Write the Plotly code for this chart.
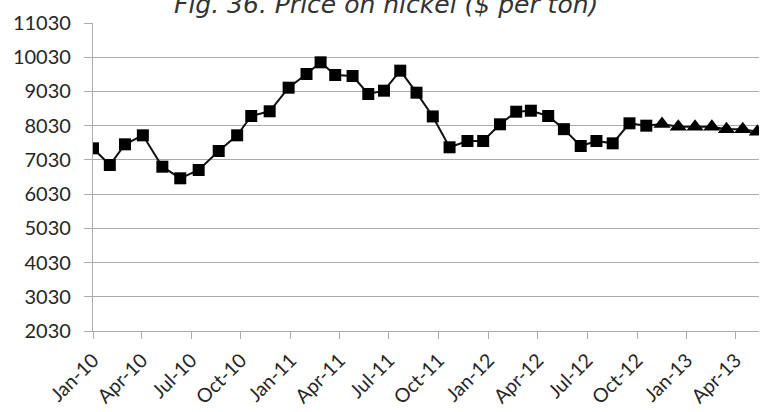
import plotly.graph_objects as go

# Observation dates for each price reading
dates = [
    "2010-01-01", "2010-02-01", "2010-03-01", "2010-04-03", "2010-05-09",
    "2010-06-11", "2010-07-15", "2010-08-21", "2010-09-24", "2010-10-20",
    "2010-11-23", "2010-12-28", "2011-01-30", "2011-02-25", "2011-03-24",
    "2011-04-25", "2011-05-24", "2011-06-22", "2011-07-22", "2011-08-21",
    "2011-09-20", "2011-10-21", "2011-11-23", "2011-12-22", "2012-01-22",
    "2012-02-21", "2012-03-19", "2012-04-20", "2012-05-19", "2012-06-19",
    "2012-07-18", "2012-08-17", "2012-09-17", "2012-10-18",
    # forecast dates
    "2012-11-16", "2012-12-16", "2013-01-16", "2013-02-16", "2013-03-15",
    "2013-04-14", "2013-05-11",
]

# Nickel price, $ per ton
actual = [7368, 6880, 7485, 7748, 6831, 6492, 6734, 7290, 7748, 8312,
          8450, 9140, 9540, 9881, 9510, 9481, 8955, 9052, 9637, 8994,
          8300, 7398, 7582, 7582, 8070, 8438, 8467, 8312, 7928, 7436,
          7582, 7514, 8099, 8030]
forecast = [8080, 8000, 8000, 8000, 7925, 7925, 7850]

y_ticks = [2030, 3030, 4030, 5030, 6030, 7030, 8030, 9030, 10030, 11030]

title_text = "Fig. 36. Price on nickel ($ per ton)"

values = actual + forecast
symbols = ["square"] * len(actual) + ["triangle-up"] * len(forecast)
sizes = [12] * len(actual) + [15] * len(forecast)

font_family = "Lato, Open Sans, sans-serif"
grid = "#ababab"

fig = go.Figure()
fig.add_trace(go.Scatter(
    x=dates,
    y=values,
    mode="lines+markers",
    line=dict(color="#111111", width=2),
    marker=dict(symbol=symbols, size=sizes, color="#000000", opacity=1,
                line=dict(width=0)),
    cliponaxis=True,
    showlegend=False,
))

fig.update_layout(
    width=760, height=412,
    margin=dict(l=93, r=1, t=23, b=81),
    paper_bgcolor="white", plot_bgcolor="white",
    font=dict(family=font_family, size=20, color="#262626"),
    xaxis=dict(
        type="date",
        range=["2010-01-01", "2013-05-14"],
        tick0="2010-01-01", dtick="M3", tickformat="%b-%y",
        tickangle=-45, tickfont=dict(size=19.5),
        showgrid=False, showline=True, linecolor=grid, linewidth=1.2,
        ticks="outside", ticklen=7, tickcolor=grid, tickwidth=1.2,
        ticklabelstandoff=2, automargin=False,
        zeroline=False,
    ),
    yaxis=dict(
        range=[2030, 11030],
        tickvals=y_ticks, ticktext=[str(v) for v in y_ticks],
        showgrid=True, gridcolor=grid, gridwidth=1.2,
        showline=True, linecolor=grid, linewidth=1.2,
        ticks="outside", ticklen=8, tickcolor=grid, tickwidth=1.2,
        ticklabelstandoff=9, automargin=False,
        zeroline=False,
    ),
    annotations=[dict(
        text="<i>" + title_text + "</i>",
        xref="paper", yref="paper", x=0.44, y=1,
        xanchor="center", yanchor="bottom", yshift=2,
        showarrow=False,
        font=dict(family="DejaVu Sans, sans-serif", size=25, color="#333333"),
    )],
)

fig.write_html("out.html")
